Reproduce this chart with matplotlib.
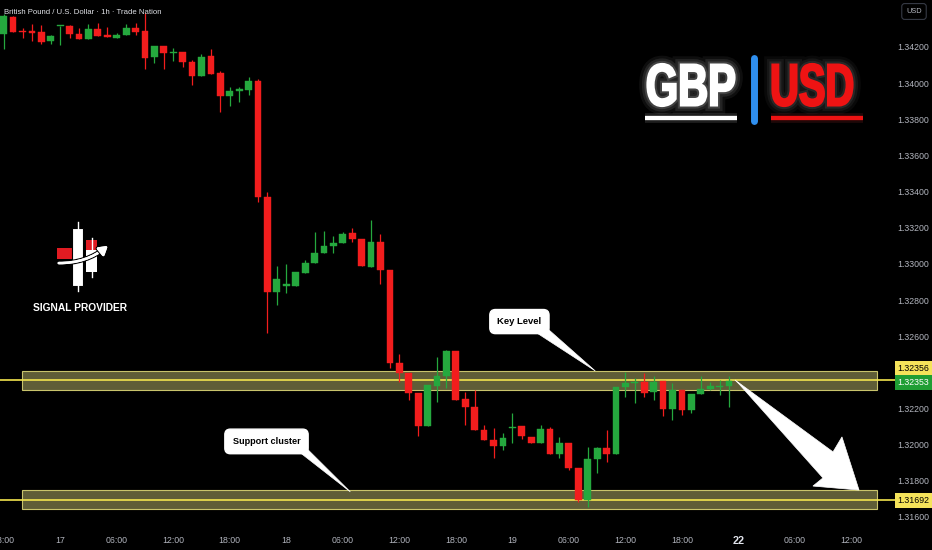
import numpy as np
import matplotlib
matplotlib.use("Agg")
import matplotlib.pyplot as plt
from matplotlib.patches import Rectangle, Polygon, PathPatch, FancyArrowPatch
from matplotlib.textpath import TextPath
from matplotlib.font_manager import FontProperties
from matplotlib.transforms import Affine2D, blended_transform_factory
import matplotlib.patheffects as pe

plt.rcParams['font.family'] = ['Liberation Sans', 'DejaVu Sans']

# GBPUSD 1h candles, 16 Sep 18:00 -> 21 Sep 23:00
opens = [1.34272, 1.34368, 1.34289, 1.34289, 1.34281, 1.34233, 1.34315, 1.34315, 1.34274, 1.34246,
         1.34301, 1.34268, 1.34251, 1.34265, 1.34307, 1.34289, 1.34143, 1.34204, 1.34165, 1.34174,
         1.34119, 1.34040, 1.34150, 1.34058, 1.33931, 1.33957, 1.33960, 1.34014, 1.33369, 1.32846,
         1.32880, 1.32878, 1.32951, 1.33003, 1.33059, 1.33099, 1.33117, 1.33169, 1.33140, 1.32985,
         1.33120, 1.32966, 1.32450, 1.32395, 1.32284, 1.32103, 1.32325, 1.32380, 1.32518, 1.32253,
         1.32210, 1.32081, 1.32026, 1.31993, 1.32094, 1.32105, 1.32044, 1.32011, 1.32087, 1.31949,
         1.32008, 1.31869, 1.31694, 1.31919, 1.31983, 1.31949, 1.32321, 1.32340, 1.32348, 1.32290,
         1.32352, 1.32197, 1.32303, 1.32192, 1.32280, 1.32308, 1.32321, 1.32326]
highs = [1.34383, 1.34370, 1.34305, 1.34327, 1.34322, 1.34268, 1.34318, 1.34322, 1.34303, 1.34326,
         1.34331, 1.34309, 1.34279, 1.34327, 1.34334, 1.34386, 1.34207, 1.34204, 1.34193, 1.34174,
         1.34128, 1.34161, 1.34187, 1.34069, 1.33977, 1.33977, 1.34032, 1.34023, 1.33396, 1.32988,
         1.33000, 1.32957, 1.33022, 1.33178, 1.33184, 1.33154, 1.33175, 1.33197, 1.33140, 1.33243,
         1.33166, 1.32966, 1.32502, 1.32395, 1.32284, 1.32330, 1.32487, 1.32524, 1.32518, 1.32293,
         1.32303, 1.32109, 1.32091, 1.32066, 1.32174, 1.32105, 1.32044, 1.32109, 1.32100, 1.32044,
         1.32008, 1.31869, 1.31989, 1.31989, 1.32081, 1.32321, 1.32404, 1.32367, 1.32395, 1.32380,
         1.32352, 1.32340, 1.32303, 1.32280, 1.32380, 1.32348, 1.32358, 1.32380]
lows = [1.34189, 1.34283, 1.34250, 1.34235, 1.34218, 1.34215, 1.34211, 1.34251, 1.34246, 1.34246,
        1.34263, 1.34254, 1.34248, 1.34265, 1.34268, 1.34078, 1.34113, 1.34077, 1.34123, 1.34091,
        1.33990, 1.34040, 1.34052, 1.33842, 1.33874, 1.33896, 1.33934, 1.33344, 1.32620, 1.32773,
        1.32841, 1.32878, 1.32951, 1.33003, 1.33059, 1.33062, 1.33117, 1.33123, 1.32988, 1.32985,
        1.32889, 1.32424, 1.32348, 1.32247, 1.32048, 1.32103, 1.32238, 1.32312, 1.32247, 1.32109,
        1.32081, 1.32026, 1.31928, 1.31971, 1.32008, 1.32030, 1.32011, 1.32011, 1.31949, 1.31925,
        1.31860, 1.31685, 1.31657, 1.31842, 1.31906, 1.31949, 1.32265, 1.32229, 1.32262, 1.32247,
        1.32160, 1.32137, 1.32164, 1.32174, 1.32280, 1.32303, 1.32275, 1.32210]
closes = [1.34373, 1.34285, 1.34283, 1.34277, 1.34229, 1.34261, 1.34318, 1.34274, 1.34246, 1.34301,
          1.34263, 1.34254, 1.34266, 1.34307, 1.34285, 1.34141, 1.34207, 1.34165, 1.34174, 1.34115,
          1.34040, 1.34146, 1.34052, 1.33929, 1.33958, 1.33966, 1.34014, 1.33369, 1.32846, 1.32918,
          1.32887, 1.32957, 1.33007, 1.33062, 1.33099, 1.33117, 1.33166, 1.33136, 1.32988, 1.33120,
          1.32966, 1.32450, 1.32398, 1.32284, 1.32103, 1.32330, 1.32380, 1.32518, 1.32247, 1.32207,
          1.32081, 1.32026, 1.31993, 1.32035, 1.32100, 1.32048, 1.32011, 1.32085, 1.31949, 1.32008,
          1.31869, 1.31694, 1.31921, 1.31980, 1.31949, 1.32321, 1.32343, 1.32345, 1.32288, 1.32345,
          1.32197, 1.32303, 1.32192, 1.32280, 1.32308, 1.32326, 1.32326, 1.32353]

time_ticks = [0, 6, 12, 18, 24, 30, 36, 42, 48, 54, 60, 66, 72, 78, 84, 90]
time_labels = ["18:00", "17", "06:00", "12:00", "18:00", "18", "06:00", "12:00", "18:00",
               "19", "06:00", "12:00", "18:00", "22", "06:00", "12:00"]
price_ticks = [1.342, 1.340, 1.338, 1.336, 1.334, 1.332, 1.330, 1.328, 1.326,
               1.322, 1.320, 1.318, 1.316]

key_level = 1.32356
key_band = [1.32303, 1.32408]
support_level = 1.31692
support_band = [1.31644, 1.31749]
last_price = 1.32353

BG = "#000000"
UP = "#25a83e"
DOWN = "#f21d1d"
GREY = "#b2b5be"

fig = plt.figure(figsize=(9.32, 5.5), dpi=100, facecolor=BG)
ax = fig.add_axes([0, 22 / 550, 895 / 932, 528 / 550])
ax.set_facecolor(BG)
ax.set_xlim(-0.39, 94.62)
ax.set_ylim(1.31539, 1.34460)
for s in ax.spines.values():
    s.set_visible(False)

# zones
for band, lvl in [(key_band, key_level), (support_band, support_level)]:
    ax.add_patch(Rectangle((1.94, band[0]), 90.8, band[1] - band[0], facecolor="#5f5d37",
                           edgecolor="#c9c46c", lw=0.8, zorder=1))
    ax.axhline(lvl, color="#f2e44e", lw=1.2, zorder=2)

# candles
for i in range(len(opens)):
    o, h, l, c = opens[i], highs[i], lows[i], closes[i]
    col = UP if c >= o else DOWN
    ax.vlines(i, l, h, color=col, lw=0.9, zorder=3)
    ax.add_patch(Rectangle((i - 0.36, min(o, c)), 0.72, max(abs(c - o), 0.00004),
                           facecolor=col, edgecolor=col, lw=0.3, zorder=4))

# axes ticks
ax.yaxis.tick_right()
ax.set_yticks(price_ticks)
ax.set_yticklabels(["%.5f" % p for p in price_ticks])
ax.tick_params(axis='y', length=0, pad=2, labelsize=6.3, labelcolor=GREY)
ax.set_xticks(time_ticks)
ax.set_xticklabels(time_labels)
ax.tick_params(axis='x', length=0, pad=6, labelsize=6.3, labelcolor=GREY)
for t in ax.get_xticklabels():
    if t.get_text() == "22":
        t.set_fontweight('bold')
        t.set_fontsize(7.8)
        t.set_color("#e0e3eb")

# price labels on the scale
tr = blended_transform_factory(ax.transAxes, ax.transData)
ax.text(1.003, key_level + 0.00063, "%.5f" % key_level, transform=tr, ha='left', va='center',
        fontsize=6.3, color='black', clip_on=False, zorder=10,
        bbox=dict(boxstyle='square,pad=0.35', fc="#f5e35a", ec='none'))
ax.text(1.003, last_price - 0.00008, "%.5f" % last_price, transform=tr, ha='left', va='center',
        fontsize=6.3, color='white', clip_on=False, zorder=10,
        bbox=dict(boxstyle='square,pad=0.35', fc="#1f9e34", ec='none'))
ax.text(1.003, support_level, "%.5f" % support_level, transform=tr, ha='left', va='center',
        fontsize=6.3, color='black', clip_on=False, zorder=10,
        bbox=dict(boxstyle='square,pad=0.35', fc="#f5e35a", ec='none'))

# callouts
ax.text(54.75, 1.32681, "Key Level", ha='center', va='center', fontsize=6.8, fontweight='bold',
        color='black', zorder=8,
        bbox=dict(boxstyle='round,pad=0.8,rounding_size=0.6', fc='white', ec='white'))
ax.add_patch(Polygon([(56.6, 1.32618), (57.4, 1.32657), (62.8, key_band[1])], closed=True,
                     fc='white', ec='white', lw=0.5, zorder=8))
ax.text(27.9, 1.32018, "Support cluster", ha='center', va='center', fontsize=6.6,
        fontweight='bold', color='black', zorder=8,
        bbox=dict(boxstyle='round,pad=0.85,rounding_size=0.6', fc='white', ec='white'))
ax.add_patch(Polygon([(31.0, 1.31975), (31.9, 1.31993), (36.8, support_band[1] - 0.0001)],
                     closed=True, fc='white', ec='white', lw=0.5, zorder=8))

# big arrow towards support
ax.add_patch(Polygon([(77.63, 1.32358), (88.04, 1.31960), (88.99, 1.32043), (90.8, 1.31749),
                      (85.91, 1.31771), (86.97, 1.31816), (78.06, 1.32336)], closed=True,
                     fc='white', ec='white', lw=0.5, zorder=9))

# overlay in pixel coordinates for the branding
ov = fig.add_axes([0, 0, 1, 1])
ov.set_xlim(0, 932)
ov.set_ylim(550, 0)
ov.axis('off')

fig.text(4 / 932, 1 - 12 / 550, "British Pound / U.S. Dollar · 1h · Trade Nation", ha='left',
         va='center', fontsize=5.6, color="#dfe1e6")
fig.text(914 / 932, 1 - 11.5 / 550, "USD", ha='center', va='center', fontsize=5.3, color=GREY,
         bbox=dict(boxstyle='round,pad=0.6,rounding_size=0.4', fc=BG, ec="#363a45", lw=0.8))


def fit_text(s, x0, x1, ytop, ybot, color, glow):
    fp = FontProperties(family=['Liberation Sans'], weight='bold')
    tp = TextPath((0, 0), s, size=10, prop=fp)
    ext = tp.get_extents()
    sx = (x1 - x0) / ext.width
    sy = (ybot - ytop) / ext.height
    t = Affine2D().translate(-ext.x0, -ext.y0).scale(sx, -sy).translate(x0, ybot) + ov.transData
    p = PathPatch(tp, transform=t, fc=color, ec='none', zorder=5)
    p.set_path_effects([pe.withStroke(linewidth=12, foreground=glow, alpha=0.06),
                        pe.withStroke(linewidth=8, foreground=glow, alpha=0.09),
                        pe.withStroke(linewidth=4.5, foreground=glow, alpha=0.14),
                        pe.withStroke(linewidth=1.6, foreground=color), pe.Normal()])
    ov.add_patch(p)


fit_text("GBP", 647.5, 734.5, 64, 106, 'white', 'white')
fit_text("USD", 772.5, 852.5, 64, 106, "#ee1313", "#9a9a9a")
ov.plot([645, 737], [118, 118], color='white', lw=3, solid_capstyle='butt',
        path_effects=[pe.withStroke(linewidth=7, foreground='white', alpha=0.12), pe.Normal()])
ov.plot([771, 863], [117.5, 117.5], color="#ee1313", lw=3, solid_capstyle='butt',
        path_effects=[pe.withStroke(linewidth=7, foreground='#ff4444', alpha=0.12), pe.Normal()])
ov.plot([753.7, 753.7], [58, 121], color="#2f8fef", lw=5, solid_capstyle='round')

# signal provider logo
ov.add_patch(Rectangle((57, 248), 15, 11, fc="#e11b22", ec='none'))
ov.add_patch(Rectangle((86, 240), 11, 10, fc="#e11b22", ec='none'))
ov.add_patch(Rectangle((86, 250), 11, 22, fc='white', ec='none'))
ov.plot([91.5, 91.5], [238, 277], color='white', lw=1)
ov.add_patch(Rectangle((72, 228), 11, 58, fc='white', ec='black', lw=0.8))
ov.plot([77.5, 77.5], [222, 291], color='white', lw=1, zorder=1)
arr = FancyArrowPatch((56, 263), (110, 244), connectionstyle="arc3,rad=0.2",
                      arrowstyle='-|>,head_length=5,head_width=3', color='white', lw=1.8,
                      zorder=6)
arr.set_path_effects([pe.withStroke(linewidth=3.5, foreground='black'), pe.Normal()])
ov.add_patch(arr)
ov.text(80, 308, "SIGNAL PROVIDER", ha='center', va='center', fontsize=7.4, fontweight='bold',
        color='white')

fig.savefig("out.png", dpi=100, facecolor=BG)
